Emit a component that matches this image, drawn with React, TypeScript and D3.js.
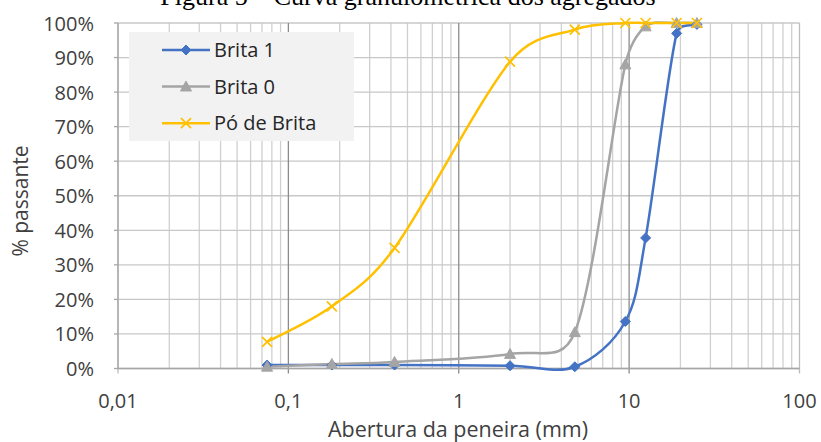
import React from "react";
import * as d3 from "d3";

const sieves = [0.075, 0.18, 0.42, 2.0, 4.8, 9.5, 12.5, 19, 25];
const brita1 = [1, 1, 1, 0.8, 0.5, 13.6, 37.8, 97, 99.6];
const brita0 = [0.5, 1.3, 1.9, 4.2, 10.5, 88, 99, 100, 100];
const poDeBrita = [7.7, 18, 34.9, 88.8, 98.1, 100, 100, 100, 100];
const xTicks = [0.01, 0.1, 1, 10, 100];
const xTickLabels = ["0,01", "0,1", "1", "10", "100"];
const yTicks = [0, 10, 20, 30, 40, 50, 60, 70, 80, 90, 100];
const seriesNames = ["Brita 1", "Brita 0", "Pó de Brita"];
const seriesColors = ["#4472c4", "#a5a5a5", "#ffc000"];

const W = 821;
const H = 442;
const FONT = "'Open Sans', 'Noto Sans', sans-serif";

// Excel-like smoothed line: Bezier with 1/6 tangents, limited to half the segment length
function smoothPath(pts: [number, number][]): string {
  const p = d3.path();
  if (!pts.length) return "";
  p.moveTo(pts[0][0], pts[0][1]);
  const dist = (a: [number, number], b: [number, number]) => Math.hypot(b[0] - a[0], b[1] - a[1]);
  for (let i = 0; i < pts.length - 1; i++) {
    const p0 = pts[i - 1] || pts[i];
    const p1 = pts[i];
    const p2 = pts[i + 1];
    const p3 = pts[i + 2] || pts[i + 1];
    const d12 = dist(p1, p2);
    let t1x = (p2[0] - p0[0]) / 6, t1y = (p2[1] - p0[1]) / 6;
    const l1 = Math.hypot(t1x, t1y);
    if (l1 > d12 / 2 && l1 > 0) { const s = d12 / 2 / l1; t1x *= s; t1y *= s; }
    let t2x = (p3[0] - p1[0]) / 6, t2y = (p3[1] - p1[1]) / 6;
    const l2 = Math.hypot(t2x, t2y);
    if (l2 > d12 / 2 && l2 > 0) { const s = d12 / 2 / l2; t2x *= s; t2y *= s; }
    p.bezierCurveTo(p1[0] + t1x, p1[1] + t1y, p2[0] - t2x, p2[1] - t2y, p2[0], p2[1]);
  }
  return p.toString();
}

function Marker({ kind, x, y, color }: { kind: number; x: number; y: number; color: string }) {
  if (kind === 0) {
    const s = 5;
    return <path d={`M${x},${y - s}L${x + s},${y}L${x},${y + s}L${x - s},${y}Z`} fill={color} stroke={color} strokeWidth={1} />;
  }
  if (kind === 1) {
    const s = 5.5;
    return <path d={`M${x},${y - s}L${x + s},${y + s * 0.8}L${x - s},${y + s * 0.8}Z`} fill={color} stroke={color} strokeWidth={1} />;
  }
  const s = 5;
  return <path d={`M${x - s},${y - s}L${x + s},${y + s}M${x - s},${y + s}L${x + s},${y - s}`} stroke={color} strokeWidth={1.7} fill="none" />;
}

export default function App() {
  const x = d3.scaleLog().domain([0.01, 100]).range([118, 799.5]);
  const y = d3.scaleLinear().domain([0, 100]).range([368.5, 23]);
  const series = [brita1, brita0, poDeBrita];

  const minor: number[] = [];
  for (let e = -2; e < 2; e++) {
    for (let k = 2; k <= 9; k++) minor.push(k * Math.pow(10, e));
  }

  return (
    <svg width={W} height={H} style={{ position: "absolute", left: 0, top: 0, background: "#fff" }}>
      <text x={408} y={5} textAnchor="middle" fontFamily="'Liberation Serif', serif" fontSize={26} fill="#000">
        Figura 5 – Curva granulométrica dos agregados
      </text>
      {minor.map((v, i) => (
        <line key={"m" + i} x1={x(v)} x2={x(v)} y1={y(100)} y2={y(0)} stroke="#d0d0d0" strokeWidth={1.3} />
      ))}
      {yTicks.map((t) => (
        <line key={"h" + t} x1={x(0.01)} x2={x(100)} y1={y(t)} y2={y(t)} stroke="#c8c8c8" strokeWidth={1.3} />
      ))}
      {xTicks.map((t) => (
        <line key={"v" + t} x1={x(t)} x2={x(t)} y1={y(100)} y2={y(0) + 5} stroke={t === 0.01 || t === 100 ? "#bdbdbd" : "#8c8c8c"} strokeWidth={1.3} />
      ))}
      <line x1={x(0.01)} x2={x(0.01)} y1={y(100)} y2={y(0)} stroke="#a6a6a6" strokeWidth={1.3} />
      {yTicks.map((t) => (
        <line key={"yt" + t} x1={x(0.01) - 4} x2={x(0.01)} y1={y(t)} y2={y(t)} stroke="#a6a6a6" strokeWidth={1.3} />
      ))}
      <line x1={x(0.01)} x2={x(100)} y1={y(0)} y2={y(0)} stroke="#a6a6a6" strokeWidth={1.3} />
      {yTicks.map((t) => (
        <text key={"yl" + t} x={94} y={y(t) + 7.5} textAnchor="end" fontFamily={FONT} fontSize={20} fill="#404040">
          {t}%
        </text>
      ))}
      {xTicks.map((t, i) => (
        <text key={"xl" + t} x={x(t)} y={408} textAnchor="middle" fontFamily={FONT} fontSize={20} fill="#404040">
          {xTickLabels[i]}
        </text>
      ))}
      <text x={458} y={437} textAnchor="middle" fontFamily={FONT} fontSize={21.5} fill="#404040">
        Abertura da peneira (mm)
      </text>
      <text transform="translate(28,201) rotate(-90)" textAnchor="middle" fontFamily={FONT} fontSize={21} fill="#404040">
        % passante
      </text>
      {series.map((vals, si) => {
        const pts = sieves.map((s, i) => [x(s), y(vals[i])] as [number, number]);
        return <path key={"s" + si} d={smoothPath(pts)} fill="none" stroke={seriesColors[si]} strokeWidth={2.5} />;
      })}
      {series.map((vals, si) => (
        <g key={"mk" + si}>
          {sieves.map((s, i) => (
            <Marker key={i} kind={si} x={x(s)} y={y(vals[i])} color={seriesColors[si]} />
          ))}
        </g>
      ))}
      <rect x={129} y={32} width={225} height={109} fill="#f2f2f2" />
      {seriesNames.map((n, i) => {
        const ly = 50 + i * 36.6;
        return (
          <g key={"lg" + i}>
            <line x1={162} x2={210} y1={ly} y2={ly} stroke={seriesColors[i]} strokeWidth={2.5} />
            <Marker kind={i} x={186} y={ly} color={seriesColors[i]} />
            <text x={214} y={ly + 7} fontFamily={FONT} fontSize={20} fill="#262626">
              {n}
            </text>
          </g>
        );
      })}
    </svg>
  );
}
